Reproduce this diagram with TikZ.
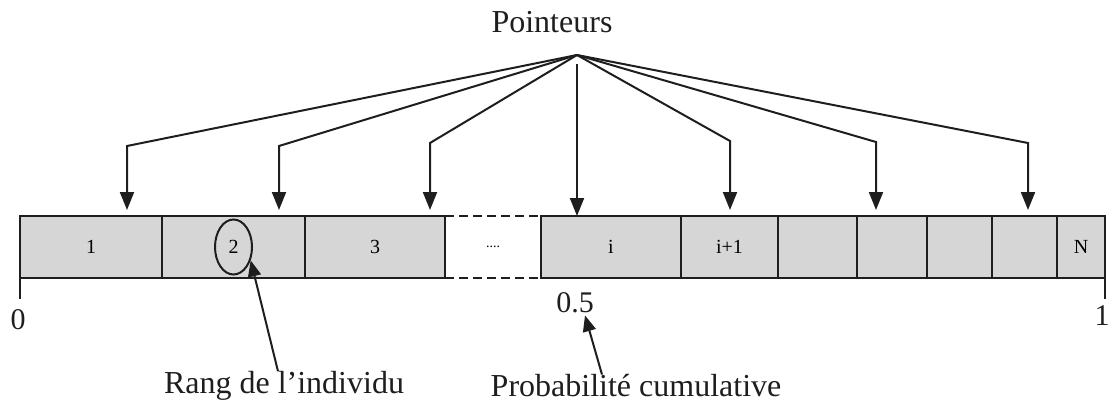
\documentclass[tikz,border=0pt]{standalone}
\usepackage{fontspec}
\setmainfont{Liberation Serif}
\usetikzlibrary{positioning,arrows.meta,shapes.geometric}
\definecolor{ink}{HTML}{1E1E1E}
\definecolor{cellgray}{HTML}{D6D6D6}

\begin{document}
\begin{tikzpicture}[x=1pt,y=-1pt,
  node distance=0pt,
  cell/.style={draw=ink,line width=2pt,fill=cellgray,minimum height=62pt,inner sep=0pt,outer sep=0pt,font=\fontsize{20}{22}\selectfont},
  lbl/.style={font=\fontsize{32}{36}\selectfont,text=ink,inner sep=0pt},
  tick/.style={font=\fontsize{30}{34}\selectfont,text=ink,inner sep=0pt},
  arr/.style={-{Triangle[length=18pt,width=14pt]},draw=ink,line width=2pt}]
\useasboundingbox (0,0) rectangle (1111,404);
% the bar of cumulative probabilities
\node[cell,minimum width=142pt] (c1) at (91,247) {1};
\node[cell,minimum width=143pt,right=of c1] (c2) {2};
\node[cell,minimum width=140pt,right=of c2] (c3) {3};
\node[minimum width=96pt,minimum height=62pt,inner sep=0pt,outer sep=0pt,right=of c3,font=\fontsize{14}{16}\selectfont] (gap) {....};
\node[cell,minimum width=140pt,right=of gap] (ci) {i};
\node[cell,minimum width=97pt,right=of ci] (ci1) {i+1};
\node[cell,minimum width=79pt,right=of ci1] (c7) {};
\node[cell,minimum width=70pt,right=of c7] (c8) {};
\node[cell,minimum width=65pt,right=of c8] (c9) {};
\node[cell,minimum width=65pt,right=of c9] (c10) {};
\node[cell,minimum width=48pt,right=of c10] (cN) {N};
\draw[draw=ink,line width=2pt,dash pattern=on 9pt off 5pt] (c3.north east) -- (ci.north west);
\draw[draw=ink,line width=2pt,dash pattern=on 9pt off 5pt] (c3.south east) -- (ci.south west);
\node[draw=ink,line width=2pt,ellipse,minimum width=37pt,minimum height=55pt,inner sep=0pt] (ell) at (c2.center) {};

% axis
\draw[draw=ink,line width=2pt] (c1.south west) -- ++(0,21);
\draw[draw=ink,line width=2pt] (cN.north east) -- ++(0,83);
\node[tick] (zero) at (18,320) {0};
\node[tick] (one) at (1102,316) {1};
\node[tick] (half) at (575,303) {0.5};

% pointers
\node[lbl] (ptr) at (552,22) {Pointeurs};
\coordinate (src) at (577,55);
\coordinate (k1) at (127,146);
\coordinate (k2) at (279,146);
\coordinate (k3) at (430,143);
\coordinate (k5) at (730,141);
\coordinate (k6) at (876,142);
\coordinate (k7) at (1028,143);
\draw[arr,shorten >=6pt] (src) -- (k1) -- (k1 |- c1.north);
\draw[arr,shorten >=6pt] (src) -- (k2) -- (k2 |- c2.north);
\draw[arr,shorten >=6pt] (src) -- (k3) -- (k3 |- c3.north);
\draw[arr,shorten <=9pt] (src) -- (src |- ci.north);
\draw[arr,shorten >=6pt] (src) -- (k5) -- (k5 |- ci1.north);
\draw[arr,shorten >=6pt] (src) -- (k6) -- (k6 |- c8.north);
\draw[arr,shorten >=6pt] (src) -- (k7) -- (k7 |- c10.north);

% captions
\node[lbl] (rang) at (284,386) {Rang de l'individu};
\node[lbl] (prob) at (636,386) {Probabilité cumulative};
\draw[arr,-{Triangle[length=16pt,width=13pt]}] ([xshift=-6pt]rang.north) -- (ell.-38);
\draw[arr,-{Triangle[length=16pt,width=13pt]}] ([xshift=-34pt]prob.north) -- ([xshift=10pt,yshift=-2pt]half.south);
\end{tikzpicture}
\end{document}
